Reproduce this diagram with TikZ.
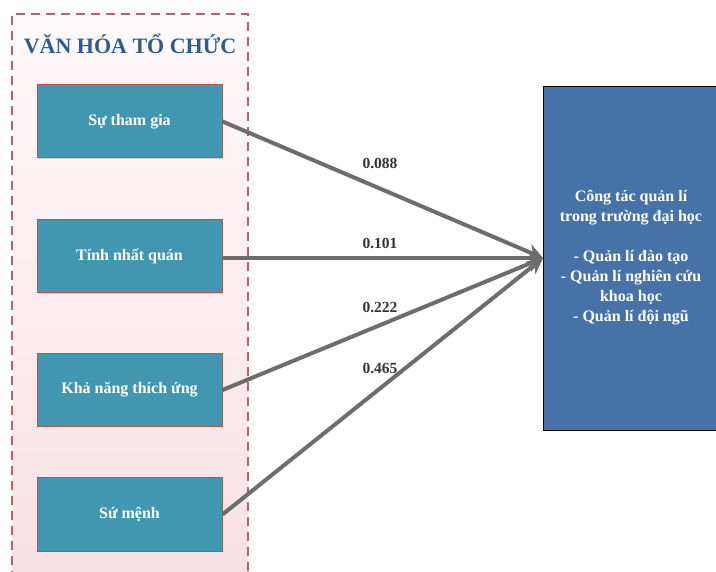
\documentclass[tikz,border=0pt]{standalone}
\usepackage{fontspec}
\setmainfont{Liberation Serif}
\usetikzlibrary{arrows.meta,shadows}
\definecolor{boxfill}{HTML}{4197AF}
\definecolor{boxedge}{HTML}{C0504D}
\definecolor{outeredge}{HTML}{BE5F6E}
\definecolor{pinktop}{HTML}{FDF9FA}
\definecolor{pinkbot}{HTML}{F9E1E5}
\definecolor{titlecol}{HTML}{2F5C8F}
\definecolor{rightfill}{HTML}{4672A8}
\definecolor{linkcol}{HTML}{6D6D6D}
\tikzset{
  factor/.style={draw=boxedge, line width=1pt, fill=boxfill, minimum width=185pt, minimum height=73pt,
    text=white, font=\fontsize{16}{19}\selectfont\bfseries, inner sep=0pt,
    drop shadow={shadow xshift=1pt, shadow yshift=-1pt, opacity=0.3}},
  link/.style={draw=linkcol, line width=4pt, -{Stealth[length=16pt, width=16pt, inset=5pt]}},
  coef/.style={font=\fontsize{15.5}{18}\selectfont\bfseries, text=black!80}
}
\begin{document}
\begin{tikzpicture}[x=1pt, y=-1pt]
\useasboundingbox (0,0) rectangle (716,572);
% outer group
\shade[top color=pinktop, bottom color=pinkbot] (12,14) rectangle (248,580);
\draw[outeredge, line width=1.5pt, dash pattern=on 9pt off 6pt] (12,580) -- (12,14) -- (248,14) -- (248,580);
\node[text=titlecol, font=\fontsize{22}{26}\selectfont\bfseries] (title) at (130,44) {VĂN HÓA TỔ CHỨC};
% factor boxes
\node[factor] (f1) at (129.5,121.5) {Sự tham gia};
\node[factor] (f2) at (129.5,256.5) {Tính nhất quán};
\node[factor] (f3) at (129.5,390) {Khả năng thích ứng};
\node[factor] (f4) at (129.5,514.5) {Sứ mệnh};
% right box
\node[draw=black, line width=1.2pt, fill=rightfill, minimum width=178pt, minimum height=344pt,
  anchor=north west, inner sep=0pt] (out) at (543,86) {};
\node[text=white, font=\fontsize{16}{20}\selectfont\bfseries, align=center] (outtext) at (631,258)
  {Công tác quản lí\\trong trường đại học\\[20pt]- Quản lí đào tạo\\- Quản lí nghiên cứu\\khoa học\\- Quản lí đội ngũ};
\coordinate (tip) at (543,258);
% links
\draw[link] (f1.east) -- (tip);
\draw[link] (f2.east |- tip) -- (tip);
\draw[link] (f3.east) -- (tip);
\draw[link] (f4.east) -- (tip);
% coefficients
\node[coef] (c1) at (380,163) {0.088};
\node[coef] (c2) at (380,243) {0.101};
\node[coef] (c3) at (380,307) {0.222};
\node[coef] (c4) at (380,368) {0.465};
\end{tikzpicture}
\end{document}
